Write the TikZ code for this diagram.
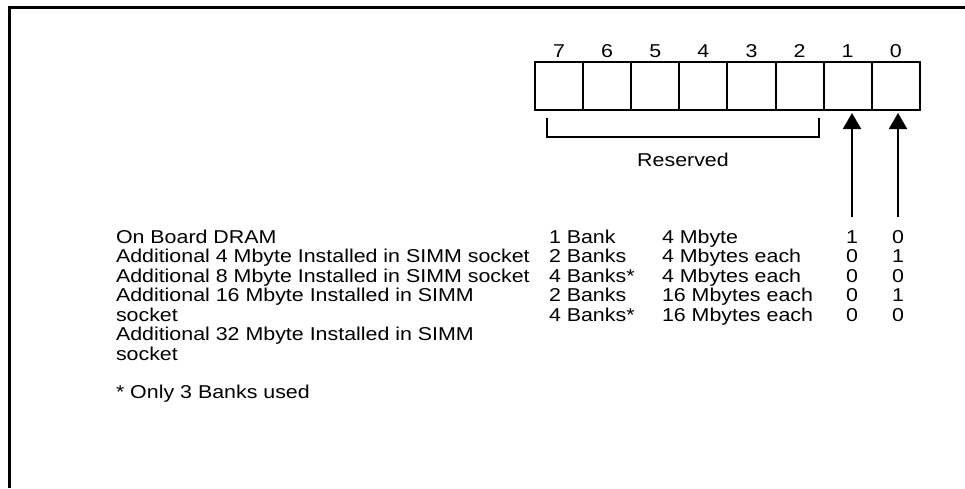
\documentclass[tikz,border=0pt]{standalone}
\usepackage{fontspec}
\setmainfont{Liberation Sans}[FakeStretch=1.15]
\usetikzlibrary{arrows.meta}
\begin{document}
\begin{tikzpicture}[x=1pt,y=-1pt,
  every node/.style={inner sep=0pt,outer sep=0pt,font=\fontsize{18.6}{19.5}\selectfont},
  bitcell/.style={draw,line width=2pt,minimum width=48.1pt,minimum height=48pt,anchor=north west},
  txt/.style={anchor=base west},
  ctxt/.style={anchor=base},
  frameline/.style={line width=3pt},
  pointer/.style={line width=2pt,-{Triangle[width=18pt,length=16pt]},shorten >=3pt}]
\useasboundingbox (0,0) rectangle (965,488);
% open frame: top and left edges only
\draw[frameline] (965,7) -- (9,7) -- (9,488);
% register cells, bit 7 on the left
\foreach \b [count=\i from 0] in {7,6,5,4,3,2,1,0}{
  \node[bitcell] (b\b) at ({535+48.1*\i},62) {};
  \node[ctxt] (n\b) at ({535+48.1*(\i+0.5)},57.5) {\b};
}
% bracket under the reserved bits
\coordinate (rl) at (547,118);
\coordinate (rr) at (819,118);
\draw[line width=2pt] (rl) -- ++(0,19) -| (rr);
\node (res) at (683,160) {Reserved};
% pointers into bits 1 and 0
\coordinate (p1) at (852,217);
\coordinate (p0) at (898,217);
\draw[pointer] (p1) -- (p1 |- b1.south);
\draw[pointer] (p0) -- (p0 |- b0.south);
% left column
\node[txt] (l1) at (116,243.3) {On Board DRAM};
\node[txt] (l2) at (116,262.7) {Additional 4 Mbyte Installed in SIMM socket};
\node[txt] (l3) at (116,282.2) {Additional 8 Mbyte Installed in SIMM socket};
\node[txt] (l4) at (116,301.7) {Additional 16 Mbyte Installed in SIMM};
\node[txt] (l4b) at (116,321.1) {socket};
\node[txt] (l5) at (116,340.5) {Additional 32 Mbyte Installed in SIMM};
\node[txt] (l5b) at (116,360) {socket};
\node[txt] (fn) at (116,398.8) {* Only 3 Banks used};
% banks, sizes and bit values
\foreach \bk/\sz/\vi/\vo [count=\r from 0] in
  {1 Bank/4 Mbyte/1/0, 2 Banks/4 Mbytes each/0/1, 4 Banks*/4 Mbytes each/0/0,
   2 Banks/16 Mbytes each/0/1, 4 Banks*/16 Mbytes each/0/0}{
  \node[txt] (k\r) at (549,{243.3+19.45*\r}) {\bk};
  \node[txt] (s\r) at (662,{243.3+19.45*\r}) {\sz};
  \node[ctxt] (vi\r) at (852,{243.3+19.45*\r}) {\vi};
  \node[ctxt] (vo\r) at (898,{243.3+19.45*\r}) {\vo};
}
\end{tikzpicture}
\end{document}
